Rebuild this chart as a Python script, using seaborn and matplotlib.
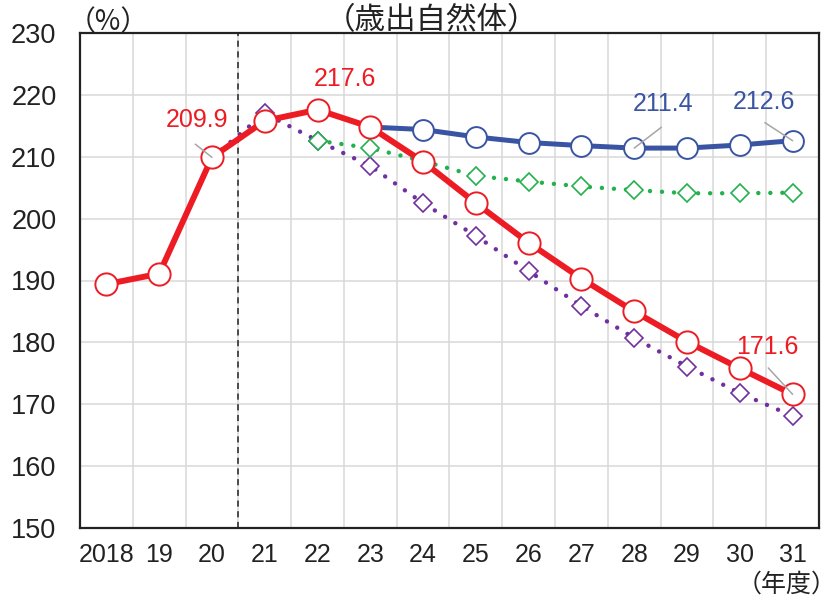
import seaborn as sns
import pandas as pd
import matplotlib
matplotlib.use("Agg")
import matplotlib.pyplot as plt
from matplotlib import font_manager as fm
import numpy as np

years = ["2018", "19", "20", "21", "22", "23", "24", "25",
         "26", "27", "28", "29", "30", "31"]

# baseline (red), starts 2018
red = [189.4, 191.1, 209.9, 215.8, 217.6, 214.8, 209.2, 202.5,
       196.1, 190.3, 185.0, 180.1, 175.8, 171.6]
# blue, from 23
blue = [214.8, 214.4, 213.2, 212.3, 211.8, 211.4, 211.4, 211.9, 212.6]
# green, from 22
green = [212.6, 211.4, 209.3, 206.9, 206.0, 205.2, 204.6, 204.1, 204.1, 204.2]
# purple, from 20
purple = [209.9, 217.0, 212.6, 208.5, 202.5, 197.2, 191.5, 185.9,
          180.7, 176.1, 171.8, 168.1]

labels = [(4, red, "217.6"), (2, red, "209.9"), (13, red, "171.6"),
          (10, blue, "211.4"), (13, blue, "212.6")]

RED = "#ED1C24"
BLUE = "#3A54A4"
GREEN = "#22B14C"
PURPLE = "#7030A0"

sns.set_style("white")
names = {f.name for f in fm.fontManager.ttflist}
narrow = "Liberation Sans Narrow" if "Liberation Sans Narrow" in names else "Liberation Sans"
plt.rcParams["font.family"] = ["Liberation Sans", "Noto Sans CJK JP", "DejaVu Sans"]
JP = ["Noto Sans CJK JP", "DejaVu Sans"]

fig = plt.figure(figsize=(8.37, 6.03), dpi=100)
ax = fig.add_axes([80 / 837, 1 - 528 / 603, 739 / 837, 495 / 603])

pos = np.arange(len(years))
dots = (0, (0.01, 2.7))

sns.lineplot(x=pos[2:], y=purple, ax=ax, color=PURPLE, lw=3.2,
             linestyle=dots, dash_capstyle="round", marker="D", markersize=9.3,
             markerfacecolor="white", markeredgecolor=PURPLE,
             markeredgewidth=1.2, zorder=3)
sns.lineplot(x=pos[4:], y=green, ax=ax, color=GREEN, lw=3.2,
             linestyle=dots, dash_capstyle="round", marker="D", markersize=9.5,
             markerfacecolor="white", markeredgecolor=GREEN,
             markeredgewidth=1.2, zorder=4)
sns.lineplot(x=pos[5:], y=blue, ax=ax, color=BLUE, lw=3.6, marker="o",
             markersize=15, markerfacecolor="white", markeredgecolor=BLUE,
             markeredgewidth=1.4, zorder=5)
sns.lineplot(x=pos, y=red, ax=ax, color=RED, lw=4.3, marker="o",
             markersize=16, markerfacecolor="white", markeredgecolor=RED,
             markeredgewidth=1.4, zorder=6)

ax.axvline(2.5, color="#222222", lw=1.1, linestyle=(0, (4, 3)), zorder=2)

ax.set_xlim(-0.5, 13.5)
ax.set_ylim(150, 230)
ax.set_yticks(np.arange(150, 231, 10))
ax.set_xticks(pos)
ax.set_xticklabels(years, fontfamily=narrow, fontsize=18)
ax.set_xticks(np.arange(0.5, 13, 1), minor=True)
for t in ax.get_yticklabels():
    t.set_fontsize(19.5)
ax.tick_params(axis="both", which="both", length=0)
ax.tick_params(axis="y", pad=17, colors="#222222")
ax.tick_params(axis="x", pad=11, colors="#222222")
ax.grid(axis="y", which="major", color="#d9d9d9", lw=1.1)
ax.grid(axis="x", which="minor", color="#d9d9d9", lw=1.1)
ax.set_axisbelow(True)
for s in ax.spines.values():
    s.set_color("#222222")
    s.set_linewidth(1.6)
ax.set_xlabel("")
ax.set_ylabel("")

# value labels: (text offset, leader start offset) in points
offsets = {"217.6": ((20, 22), None),
           "209.9": ((-11, 27), (-12, 9.5)),
           "171.6": ((-18, 34), (-17.5, 19)),
           "211.4": ((20.5, 32), (19.5, 15)),
           "212.6": ((-21, 28), (-20, 13))}
for i, series, txt in labels:
    start = len(red) - len(series)
    xy = (pos[i], series[i - start])
    col = RED if series is red else BLUE
    toff, loff = offsets[txt]
    ax.annotate(txt, xy=xy, xytext=toff, textcoords="offset points",
                ha="center", va="center", fontsize=18, color=col, zorder=8)
    if loff is not None:
        ax.annotate("", xy=xy, xytext=loff, textcoords="offset points",
                    arrowprops=dict(arrowstyle="-", color="#a6a6a6", lw=1.1,
                                    shrinkA=0, shrinkB=0), zorder=9)

fig.text(432 / 837, 1 - 21 / 603, "（歳出自然体）", ha="center", va="center",
         fontsize=22, family=JP, color="#222222")
fig.text(108 / 837, 1 - 22 / 603, "（%）", ha="center", va="center",
         fontsize=20, family=JP, color="#222222")
fig.text(837 / 837, 1 - 585 / 603, "（年度）", ha="right", va="center",
         fontsize=18, family=JP, color="#222222")

plt.savefig("out.png", dpi=100)
